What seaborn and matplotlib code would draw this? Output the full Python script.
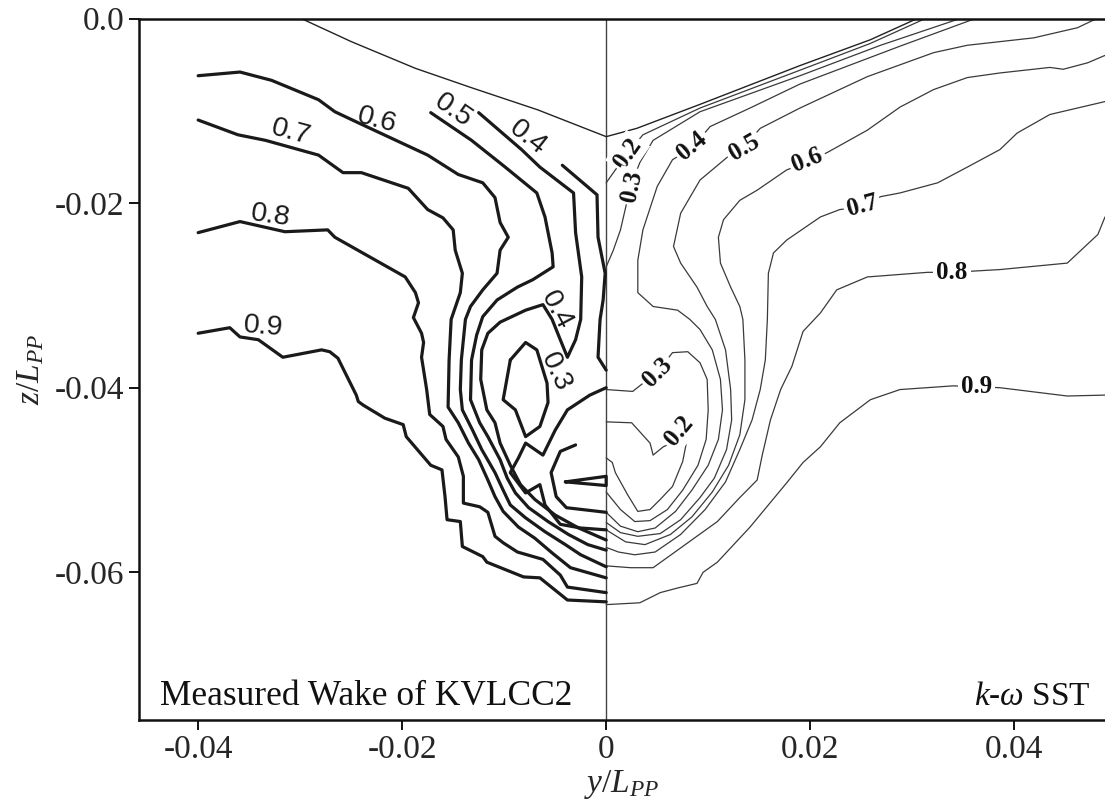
import numpy as np
import pandas as pd
import matplotlib
matplotlib.use("Agg")
import matplotlib.pyplot as plt
import seaborn as sns

# ---------------- data (coordinates in units of 1e-3 L_PP) ----------------
# Measured wake (left half)
m09_y = [-40.0, -36.9, -35.9, -34.1, -31.7, -27.9, -27.1, -26.3, -24.5, -24.3, -23.8, -21.7, -19.9, -19.6, -17.2, -16.1, -15.8, -15.6, -14.3, -14.1, -12.1, -11.7, -8.1, -6.5, -3.8, 0.0]
m09_z = [-34.1, -33.5, -34.5, -34.8, -36.7, -35.9, -36.1, -36.8, -40.8, -41.5, -41.9, -43.3, -44.0, -45.3, -48.4, -48.9, -51.8, -54.3, -54.5, -57.2, -58.3, -58.9, -60.5, -60.6, -63.0, -63.2]
m08_y = [-40.0, -35.9, -31.5, -27.3, -26.6, -19.7, -18.7, -18.4, -18.9, -18.1, -17.9, -18.1, -17.6, -17.3, -16.0, -15.7, -14.5, -14.0, -14.0, -12.4, -11.6, -10.9, -10.1, -8.7, -6.2, -4.5, -3.8, 0.0]
m08_z = [-23.2, -22.0, -23.1, -22.9, -23.7, -28.0, -29.7, -30.8, -32.4, -34.1, -35.1, -36.7, -40.2, -42.9, -44.2, -45.6, -47.5, -49.6, -52.5, -52.9, -53.5, -56.1, -56.8, -57.8, -58.6, -60.3, -61.6, -62.2]
m07_y = [-40.0, -36.1, -33.4, -28.2, -25.8, -24.0, -19.4, -17.5, -16.0, -15.0, -14.8, -14.1, -14.3, -15.2, -15.4, -15.5, -14.5, -13.5, -12.5, -11.6, -10.9, -10.1, -8.6, -7.0, -5.3, -3.5, 0.0]
m07_z = [-11.0, -12.6, -13.2, -14.8, -16.7, -16.7, -18.4, -20.7, -21.6, -22.9, -25.1, -27.6, -29.7, -32.6, -37.0, -42.1, -43.8, -46.0, -47.8, -50.0, -51.8, -53.4, -55.1, -56.3, -57.9, -59.5, -60.6]
m06_y = [-40.0, -35.9, -32.8, -28.2, -26.6, -24.3, -17.5, -14.5, -12.1, -10.9, -10.4, -9.6, -10.4, -10.7, -12.1, -13.3, -13.8, -14.2, -14.3, -14.1, -13.1, -12.2, -10.9, -10.1, -9.4, -7.9, -6.0, -4.0, -2.5, 0.0]
m06_z = [-6.2, -5.8, -6.7, -8.8, -10.1, -11.3, -14.8, -16.9, -17.8, -19.4, -22.1, -23.7, -25.1, -27.6, -29.4, -31.2, -32.6, -37.0, -40.2, -42.4, -44.6, -46.7, -49.2, -51.1, -52.7, -54.1, -55.6, -57.0, -58.1, -59.4]
m05_y = [-17.2, -13.2, -9.9, -6.8, -6.0, -5.3, -5.2, -7.2, -8.7, -10.7, -12.1, -12.7, -13.2, -13.3, -12.4, -11.6, -10.4, -9.7, -8.9, -7.6, -5.7, -3.7, -1.8, 0.0]
m05_z = [-10.2, -13.2, -16.1, -18.9, -21.5, -25.4, -26.9, -28.3, -29.1, -30.5, -32.3, -34.3, -37.0, -41.3, -43.8, -45.3, -47.8, -49.8, -51.4, -53.0, -54.5, -55.9, -57.0, -57.6]
m04_y = [-12.5, -8.3, -6.5, -3.2, -3.0, -2.4, -2.5, -3.0, -3.8, -4.5, -5.3, -6.2, -7.9, -10.4, -11.6, -12.2, -12.3, -11.7, -10.9, -10.4, -9.4, -8.4, -7.0, -5.0, -2.7, 0.0]
m04_z = [-10.2, -14.2, -16.1, -18.9, -23.2, -28.0, -32.6, -34.8, -36.7, -34.8, -32.6, -31.0, -31.6, -32.9, -34.1, -35.9, -39.1, -42.4, -43.8, -46.0, -48.4, -50.5, -52.1, -53.8, -55.2, -56.5]
m03a_y = [-4.3, -0.9, -0.8, -0.1, -0.3, -0.6, -0.8, 0.0]
m03a_z = [-15.9, -19.1, -23.7, -27.6, -30.5, -32.6, -36.7, -38.1]
m03b_y = [-9.4, -7.9, -6.8, -5.8, -5.7, -6.5, -7.9, -8.9, -10.1, -9.4]
m03b_z = [-37.0, -35.1, -35.9, -39.5, -41.6, -44.2, -45.3, -42.4, -41.3, -37.0]
m03c_y = [0.0, -1.6, -3.8, -5.0, -5.8, -6.2, -7.9, -8.6, -9.4, -7.9, -6.5, -6.0, -4.5, -2.5, 0.0]
m03c_z = [-40.0, -40.8, -42.4, -44.6, -46.4, -47.3, -46.0, -47.6, -49.2, -51.4, -50.5, -52.7, -54.8, -55.2, -55.4]
m02a_y = [-3.0, -4.5, -5.4, -4.9, -3.9, 0.0]
m02a_z = [-46.2, -46.9, -49.2, -51.8, -53.0, -53.5]
m02b_y = [-4.0, 0.0, 0.0, -4.0]
m02b_z = [-50.2, -49.6, -50.6, -50.2]
hull_l_y = [-29.9, -25.0, -18.7, -13.2, -6.7, 0.0]
hull_l_z = [0.0, -2.5, -5.4, -7.5, -9.9, -12.8]

# k-omega SST (right half)
hull_r_y = [0.0, 3.0, 9.2, 19.0, 25.9, 30.5]
hull_r_z = [-12.8, -11.9, -9.3, -5.1, -2.3, 0.0]
s02a_y = [0.0, 0.9, 2.1, 3.6, 9.2, 19.0, 25.9, 31.3]
s02a_z = [-17.8, -16.4, -14.6, -12.6, -9.7, -5.6, -2.7, 0.0]
s02b_y = [0.0, 2.5, 4.3, 4.6, 5.6, 8.0, 7.5, 6.5, 5.3, 4.3, 3.1, 2.1, 0.9, 0.6, 0.0]
s02b_z = [-43.7, -43.8, -46.0, -47.3, -46.4, -45.2, -48.0, -50.7, -52.1, -53.2, -53.4, -51.6, -49.2, -48.1, -47.6]
s03a_y = [0.0, 0.7, 1.4, 1.9, 2.4, 3.3, 4.6, 9.2, 19.0, 26.9, 34.7]
s03a_z = [-26.9, -25.1, -22.9, -20.5, -18.2, -15.6, -13.2, -10.1, -6.2, -2.9, 0.0]
s03b_y = [0.0, 2.6, 5.0, 6.5, 8.0, 9.2, 9.9, 10.0, 9.8, 9.0, 7.5, 6.0, 4.3, 2.8, 1.4, 0.0]
s03b_z = [-40.2, -40.4, -38.3, -36.2, -36.1, -37.3, -39.1, -42.4, -45.6, -48.4, -51.1, -53.2, -54.4, -54.5, -53.2, -51.3]
s04_y = [36.2, 28.8, 19.0, 14.1, 10.2, 8.4, 6.5, 5.0, 3.6, 3.1, 3.1, 4.6, 7.0, 8.2, 9.2, 10.4, 11.2, 11.4, 11.0, 10.0, 8.4, 6.8, 4.8, 3.1, 1.4, 0.0]
s04_z = [0.0, -3.0, -7.1, -9.7, -11.7, -14.0, -15.3, -18.2, -22.9, -26.2, -29.7, -31.2, -31.6, -32.6, -33.7, -35.9, -39.1, -42.4, -45.6, -48.4, -51.1, -53.4, -55.2, -55.6, -55.0, -53.5]
s05_y = [48.1, 46.2, 41.9, 35.4, 32.1, 25.6, 19.0, 15.1, 13.4, 11.9, 9.2, 7.3, 6.6, 7.3, 8.9, 9.9, 10.7, 11.7, 12.2, 12.3, 11.8, 10.6, 9.2, 7.3, 5.3, 3.1, 1.4, 0.0]
s05_z = [0.0, -1.0, -2.1, -2.9, -3.7, -6.3, -9.7, -11.9, -14.0, -15.0, -17.5, -21.1, -24.7, -26.5, -29.1, -31.2, -32.6, -35.9, -40.2, -43.5, -46.7, -49.8, -51.9, -54.3, -55.8, -56.1, -55.7, -54.6]
s06_y = [48.9, 47.2, 44.8, 43.5, 38.6, 35.4, 32.1, 28.8, 25.6, 21.7, 19.7, 17.7, 14.8, 13.1, 11.5, 11.0, 11.2, 12.2, 13.1, 13.4, 13.6, 13.6, 13.1, 12.0, 10.4, 8.4, 6.3, 3.8, 1.9, 0.0]
s06_z = [-4.0, -4.8, -5.5, -5.3, -5.9, -6.4, -7.7, -9.6, -12.1, -14.5, -15.6, -16.4, -18.6, -19.7, -21.8, -23.7, -26.5, -29.1, -31.2, -32.6, -37.0, -41.3, -45.1, -48.4, -51.3, -54.0, -55.9, -57.0, -56.7, -55.4]
s07_y = [48.9, 43.5, 40.3, 38.6, 35.4, 32.5, 28.8, 26.9, 25.1, 22.9, 21.0, 17.7, 16.4, 15.9, 15.8, 15.6, 15.1, 14.3, 13.1, 11.7, 9.7, 7.3, 4.8, 2.8, 1.2, 0.0]
s07_z = [-9.0, -10.4, -12.4, -14.2, -16.1, -17.8, -18.9, -19.3, -20.4, -20.7, -21.5, -24.0, -25.4, -27.6, -32.6, -37.0, -40.2, -43.5, -46.7, -50.2, -53.2, -55.9, -57.8, -58.1, -57.8, -57.3]
s08_y = [48.9, 48.2, 45.2, 38.6, 33.9, 31.5, 25.6, 22.6, 21.0, 19.3, 18.2, 17.1, 16.1, 15.3, 14.8, 13.1, 10.9, 7.5, 4.6, 2.4, 0.0]
s08_z = [-21.5, -23.4, -26.5, -27.2, -27.5, -27.5, -28.0, -29.4, -31.9, -33.9, -37.7, -40.2, -43.5, -47.3, -50.0, -51.9, -54.5, -57.2, -59.5, -59.5, -59.3]
s09_y = [0.0, 3.3, 5.3, 7.0, 8.9, 9.5, 10.9, 14.1, 17.7, 19.3, 21.0, 22.9, 25.9, 28.8, 34.0, 36.4, 38.6, 45.2, 48.9]
s09_z = [-63.5, -63.3, -62.2, -61.7, -61.2, -60.0, -58.9, -55.1, -50.3, -48.1, -46.4, -43.8, -41.3, -40.2, -39.8, -39.9, -40.0, -40.9, -40.8]

# contour labels: text, y, z, rotation
meas_lab_text = ["0.9", "0.8", "0.7", "0.6", "0.5", "0.4", "0.4", "0.3"]
meas_lab_y = [-33.6, -32.9, -30.9, -22.5, -15.0, -7.7, -4.9, -5.0]
meas_lab_z = [-33.4, -21.4, -12.3, -11.0, -10.0, -12.9, -31.6, -38.3]
meas_lab_rot = [-5, -8, -15, -15, -35, -38, -62, -65]
sst_lab_text = ["0.2", "0.3", "0.4", "0.5", "0.6", "0.7", "0.8", "0.9", "0.3", "0.2"]
sst_lab_y = [2.1, 2.5, 8.4, 13.5, 19.7, 25.1, 33.9, 36.3, 5.0, 7.1]
sst_lab_z = [-14.6, -18.2, -13.8, -14.0, -15.3, -20.3, -27.5, -39.9, -38.3, -44.7]
sst_lab_rot = [55, 78, 40, 30, 22, 15, 0, 0, 45, 50]

x_ticks = [-0.04, -0.02, 0.0, 0.02, 0.04]
x_tick_labels = ["-0.04", "-0.02", "0", "0.02", "0.04"]
y_ticks = [0.0, -0.02, -0.04, -0.06]
y_tick_labels = ["0.0", "-0.02", "-0.04", "-0.06"]

# ---------------- build tables ----------------
meas_lines = {
    "m09": (m09_y, m09_z), "m08": (m08_y, m08_z), "m07": (m07_y, m07_z),
    "m06": (m06_y, m06_z), "m05": (m05_y, m05_z), "m04": (m04_y, m04_z),
    "m03a": (m03a_y, m03a_z), "m03b": (m03b_y, m03b_z), "m03c": (m03c_y, m03c_z),
    "m02a": (m02a_y, m02a_z), "m02b": (m02b_y, m02b_z),
}
sst_lines = {
    "s02a": (s02a_y, s02a_z), "s02b": (s02b_y, s02b_z), "s03a": (s03a_y, s03a_z),
    "s03b": (s03b_y, s03b_z), "s04": (s04_y, s04_z), "s05": (s05_y, s05_z),
    "s06": (s06_y, s06_z), "s07": (s07_y, s07_z), "s08": (s08_y, s08_z),
    "s09": (s09_y, s09_z),
}
hull_lines = {"hl": (hull_l_y, hull_l_z), "hr": (hull_r_y, hull_r_z)}


def to_frame(lines):
    rows = []
    for name, (ys, zs) in lines.items():
        for i, (yy, zz) in enumerate(zip(ys, zs)):
            rows.append({"line": name, "order": i, "y": yy / 1000.0, "z": zz / 1000.0})
    return pd.DataFrame(rows)


df_meas = to_frame(meas_lines)
df_sst = to_frame(sst_lines)
df_hull = to_frame(hull_lines)

# ---------------- plot ----------------
sns.set_theme(style="ticks")
plt.rcParams['font.family'] = ['Liberation Serif', 'DejaVu Serif']
plt.rcParams['mathtext.fontset'] = 'custom'
plt.rcParams['mathtext.rm'] = 'Liberation Serif'
plt.rcParams['mathtext.it'] = 'Liberation Serif:italic'
plt.rcParams['mathtext.bf'] = 'Liberation Serif:bold'

fig = plt.figure(figsize=(11.05, 8.10), dpi=100)
ax = fig.add_axes([139 / 1105, 90 / 810, 966 / 1105, 701.5 / 810])

sns.lineplot(data=df_sst, x="y", y="z", units="line", estimator=None, sort=False,
             color="#3a3a3a", linewidth=0.9, ax=ax, legend=False)
sns.lineplot(data=df_hull, x="y", y="z", units="line", estimator=None, sort=False,
             color="#222222", linewidth=1.0, ax=ax, legend=False)
sns.lineplot(data=df_meas, x="y", y="z", units="line", estimator=None, sort=False,
             color="#1a1a1a", linewidth=2.3, ax=ax, legend=False)

ax.axvline(0.0, color="#444444", linewidth=1.0, zorder=1)

for t, yy, zz, r in zip(meas_lab_text, meas_lab_y, meas_lab_z, meas_lab_rot):
    ax.text(yy / 1000.0, zz / 1000.0, t, rotation=r, ha="center", va="center",
            fontsize=20.5, family=["Liberation Sans", "DejaVu Sans"], color="#1a1a1a",
            rotation_mode="anchor", zorder=5)
for t, yy, zz, r in zip(sst_lab_text, sst_lab_y, sst_lab_z, sst_lab_rot):
    ax.text(yy / 1000.0, zz / 1000.0, t, rotation=r, ha="center", va="center",
            fontsize=18, fontweight="bold", color="#111111", rotation_mode="anchor",
            bbox=dict(boxstyle="square,pad=0.12", fc="white", ec="none"), zorder=5)

ax.set_xlim(-0.0458, 0.0489)
ax.set_ylim(-0.0760, 0.0)
ax.set_xticks(x_ticks)
ax.set_xticklabels(x_tick_labels)
ax.set_yticks(y_ticks)
ax.set_yticklabels(y_tick_labels)
ax.tick_params(axis="both", labelsize=24, length=7, width=1.4, direction="out", color="#111111")
ax.set_xlabel(r"$y/L_{PP}$", fontsize=24, labelpad=2)
ax.set_ylabel(r"$z/L_{PP}$", fontsize=24, labelpad=6)

for side in ["left", "bottom", "top"]:
    ax.spines[side].set_linewidth(1.8)
    ax.spines[side].set_color("#111111")
ax.spines["right"].set_visible(False)

ax.text(0.022, 0.022, "Measured Wake of KVLCC2", transform=ax.transAxes,
        fontsize=25.5, ha="left", va="baseline", color="#111111")
ax.text(0.985, 0.022, r"$k$-$\omega$ SST", transform=ax.transAxes,
        fontsize=24, ha="right", va="baseline", color="#111111")

fig.savefig("out.png", dpi=100)
